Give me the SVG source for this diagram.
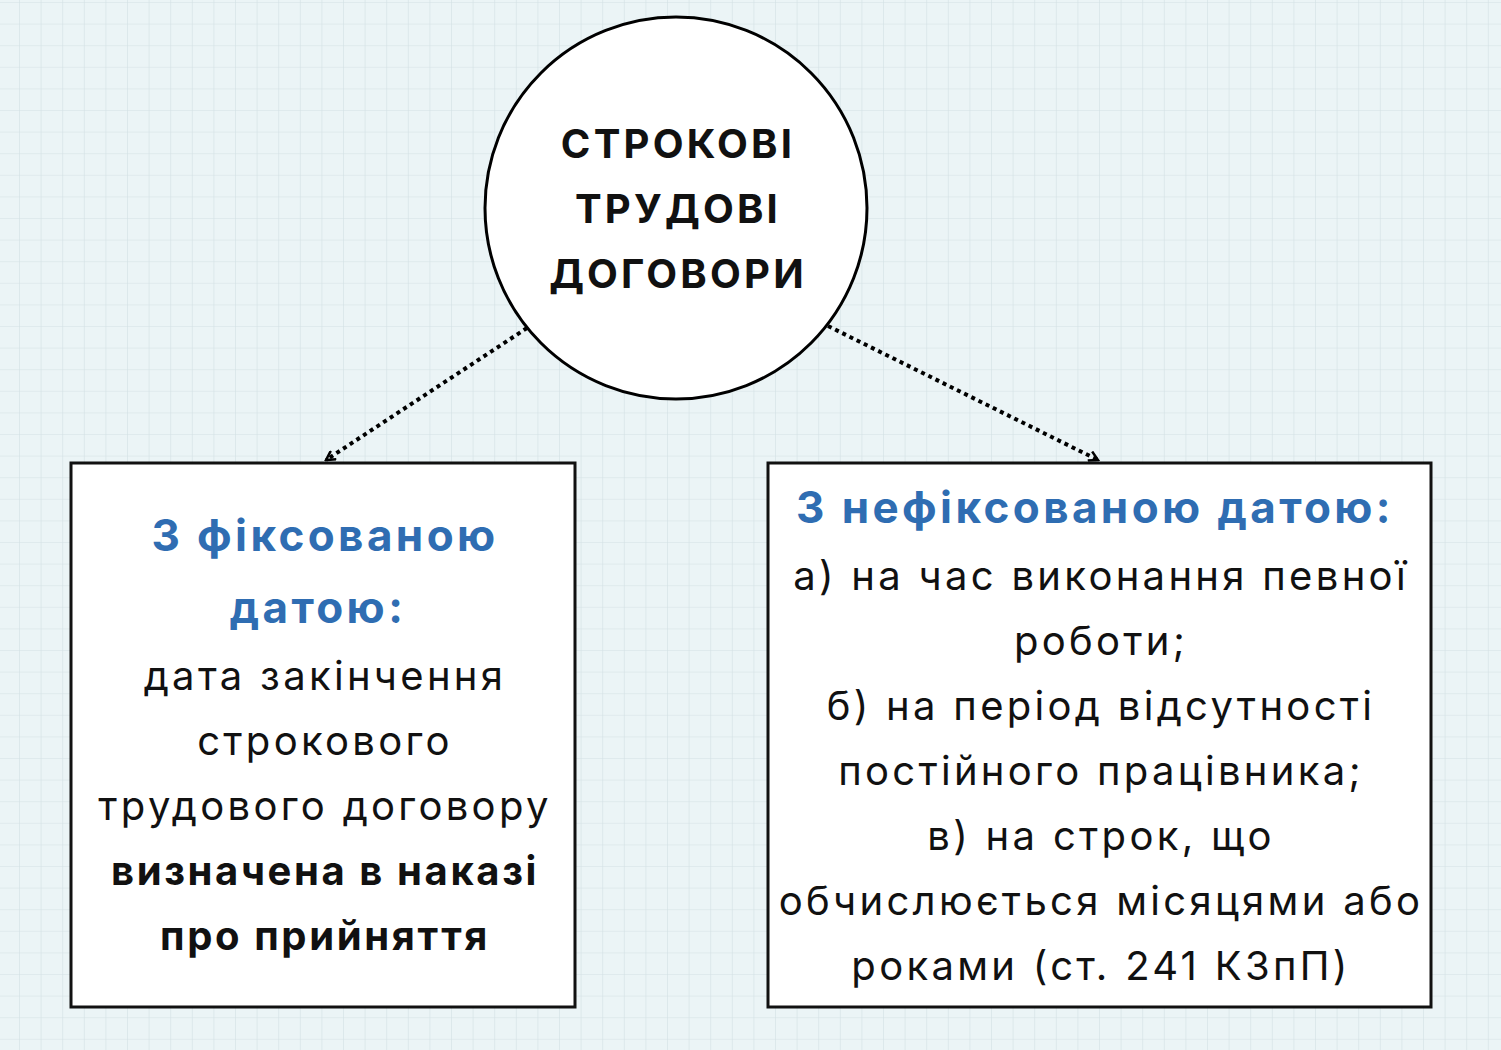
<svg xmlns="http://www.w3.org/2000/svg" width="1501" height="1050" viewBox="0 0 1501 1050">
<defs>
<pattern id="grid" x="19" y="2" width="21.6" height="21.6" patternUnits="userSpaceOnUse">
<path d="M0 0V21.6M0 0H21.6" stroke="#d3e0e4" stroke-width="1.2" fill="none"/>
</pattern>
<marker id="arr" viewBox="0 0 12 12" refX="10" refY="6" markerWidth="12" markerHeight="12" markerUnits="userSpaceOnUse" orient="auto">
<path d="M1 1L10 6L1 11" fill="none" stroke="#000" stroke-width="2.5"/>
</marker>
<style>
.t{font-family:Inter,"Noto Sans",sans-serif;text-anchor:middle;fill:#111;font-size:40px;letter-spacing:3.3px}
.b{font-weight:700;letter-spacing:2.6px}
.h{font-size:40px;letter-spacing:3.2px}
.blue{fill:#2f6db2;font-weight:700;font-size:44px;letter-spacing:3.4px}
.box{fill:#fff;stroke:#111;stroke-width:3}
.c{fill:none;stroke:#000;stroke-width:4;stroke-dasharray:4 4}
</style>
</defs>
<rect width="1501" height="1050" fill="#ebf4f6"/>
<rect width="1501" height="1050" fill="url(#grid)"/>
<g id="connectors">
<path class="c" d="M527 328L326 460" marker-end="url(#arr)"/>
<path class="c" d="M828 326L1098 460" marker-end="url(#arr)"/>
</g>
<g id="root">
<circle cx="676" cy="208" r="191" fill="#fff" stroke="#000" stroke-width="3"/>
<text class="t b h" x="678" y="158">СТРОКОВІ</text>
<text class="t b h" x="678" y="223">ТРУДОВІ</text>
<text class="t b h" x="678" y="288">ДОГОВОРИ</text>
</g>
<g id="left">
<rect class="box" x="71" y="463" width="504" height="544"/>
<text class="t blue" x="325" y="551">З фіксованою</text>
<text class="t blue" x="318" y="623">датою:</text>
<text class="t" x="325" y="690">дата закінчення</text>
<text class="t" x="325" y="755">строкового</text>
<text class="t" x="325" y="820">трудового договору</text>
<text class="t b" x="325" y="885">визначена в наказі</text>
<text class="t b" x="325" y="950">про прийняття</text>
</g>
<g id="right">
<rect class="box" x="768" y="463" width="663" height="544"/>
<text class="t blue" x="1095" y="523">З нефіксованою датою:</text>
<text class="t" x="1101" y="590">а) на час виконання певної</text>
<text class="t" x="1101" y="655">роботи;</text>
<text class="t" x="1101" y="720">б) на період відсутності</text>
<text class="t" x="1101" y="785">постійного працівника;</text>
<text class="t" x="1101" y="850">в) на строк, що</text>
<text class="t" x="1101" y="915">обчислюється місяцями або</text>
<text class="t" x="1101" y="980">роками (ст. 241 КЗпП)</text>
</g>
</svg>
